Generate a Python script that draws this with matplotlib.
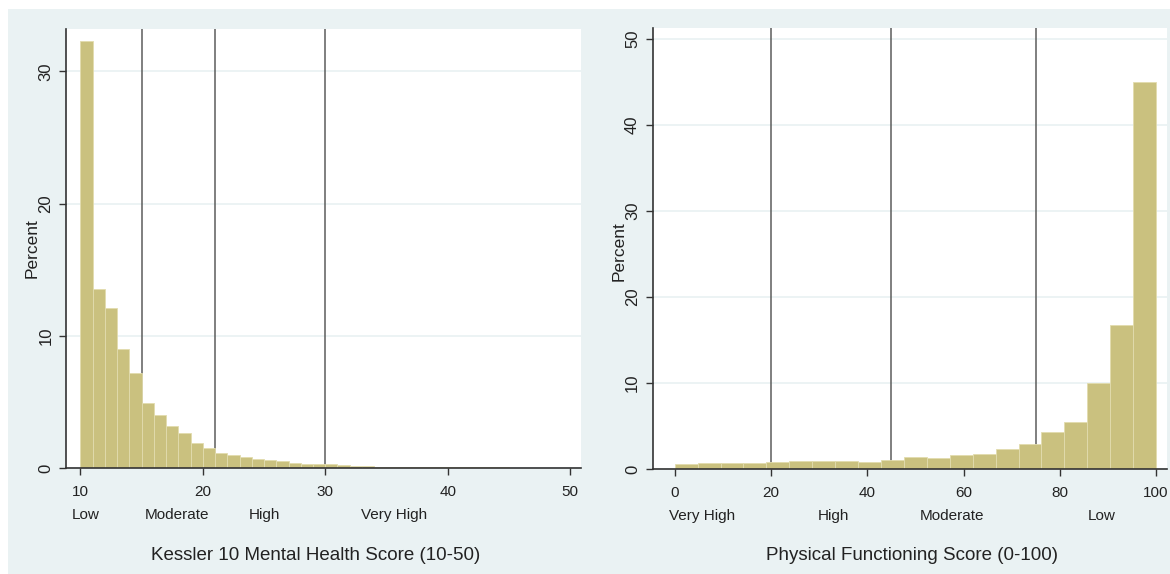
import numpy as np
import matplotlib
matplotlib.use("Agg")
import matplotlib.pyplot as plt
from matplotlib.patches import Rectangle
from matplotlib.transforms import blended_transform_factory

# Kessler 10 (10-50), bins of width 1
k10_edges = np.arange(10, 50, 1)
k10_pct = [32.3, 13.5, 12.1, 9.0, 7.2, 4.95, 4.0, 3.2, 2.65, 1.9,
           1.5, 1.15, 0.95, 0.8, 0.7, 0.62, 0.5, 0.4, 0.32, 0.3,
           0.28, 0.2, 0.18, 0.15, 0.1, 0.09, 0.1, 0.08, 0.07, 0.08,
           0.06, 0.05, 0.05, 0.04, 0.05, 0.03, 0.03, 0.03, 0.02, 0.03]
k10_cuts = [15, 21, 30]
k10_cats = ["Low", "Moderate", "High", "Very High"]
k10_cat_x = [10.4, 17.9, 25.0, 35.6]
k10_ticks = [10, 20, 30, 40, 50]
k10_yticks = [0, 10, 20, 30]

# Physical functioning (0-100), 21 bins
pf_width = 100 / 21
pf_edges = np.arange(21) * pf_width
pf_pct = [0.54, 0.7, 0.66, 0.66, 0.78, 0.89, 0.89, 0.97, 0.85, 1.09,
          1.4, 1.32, 1.67, 1.78, 2.29, 2.95, 4.3, 5.5, 10.0, 16.8, 45.0]
pf_cuts = [20, 45, 75]
pf_cats = ["Very High", "High", "Moderate", "Low"]
pf_cat_x = [5.7, 32.9, 57.6, 88.7]
pf_ticks = [0, 20, 40, 60, 80, 100]
pf_yticks = [0, 10, 20, 30, 40, 50]

bg = '#EAF2F3'
bar_col = '#CAC17F'
edge_col = '#E2DCAE'
axis_col = '#333333'
line_col = '#5C5C5C'
fnt = ['Liberation Sans', 'DejaVu Sans']
plt.rcParams['font.family'] = fnt
plt.rcParams['text.color'] = '#222222'

W, H = 1170, 574
fig = plt.figure(figsize=(W / 100, H / 100), dpi=100, facecolor='white')
fig.patches.append(Rectangle((8 / W, 0), 1 - 8 / W, 1 - 9 / H,
                             transform=fig.transFigure, facecolor=bg,
                             edgecolor='none', zorder=-10))


def panel(rect, edges, width, pct, cuts, cats, cat_x, ticks, yticks,
          xlim, ylim, xlabel, xlabel_pos, ylabel_pos):
    l, t, r, b = rect
    ax = fig.add_axes([l / W, 1 - b / H, (r - l) / W, (b - t) / H])
    ax.set_facecolor('white')
    ax.bar(edges, pct, width=width, align='edge', color=bar_col,
           edgecolor=edge_col, linewidth=0.6, zorder=3)
    for c in cuts:
        ax.axvline(c, color=line_col, lw=1.1, zorder=2)
    ax.set_xlim(*xlim)
    ax.set_ylim(*ylim)
    ax.set_xticks(ticks)
    ax.set_yticks(yticks)
    ax.yaxis.grid(True, color=bg, lw=1.3, zorder=0)
    ax.set_axisbelow(True)
    for s in ['top', 'right']:
        ax.spines[s].set_visible(False)
    for s in ['left', 'bottom']:
        ax.spines[s].set_color(axis_col)
        ax.spines[s].set_linewidth(1.2)
        ax.spines[s].set_zorder(4)
    ax.tick_params(axis='x', length=5, width=1, color=axis_col, pad=7,
                   labelsize=11, labelcolor='#222222')
    ax.tick_params(axis='y', length=4.8, width=1, color=axis_col, pad=4.3,
                   labelsize=12, labelcolor='#222222')
    for lab in ax.get_yticklabels():
        lab.set_rotation(90)
        lab.set_va('center')
    tr = blended_transform_factory(ax.transData, ax.transAxes)
    for name, x in zip(cats, cat_x):
        ax.text(x, -0.107, name, transform=tr, ha='center', va='center',
                fontsize=11)
    fig.text(xlabel_pos[0] / W, 1 - xlabel_pos[1] / H, xlabel,
             ha='center', va='center', fontsize=13.5)
    fig.text(ylabel_pos[0] / W, 1 - ylabel_pos[1] / H, 'Percent',
             ha='center', va='center', rotation=90, fontsize=12.5)
    return ax


panel((66, 29, 580.7, 468), k10_edges, 1, k10_pct, k10_cuts, k10_cats,
      k10_cat_x, k10_ticks, k10_yticks, (8.82, 50.87), (0, 33.2),
      'Kessler 10 Mental Health Score (10-50)', (316, 555), (32.3, 248))
panel((652.7, 28, 1166.7, 469), pf_edges, pf_width, pf_pct, pf_cuts,
      pf_cats, pf_cat_x, pf_ticks, pf_yticks, (-4.56, 102.2), (0, 51.3),
      'Physical Functioning Score (0-100)', (912, 555), (618.7, 251))

fig.savefig('out.png', dpi=100, facecolor='white')
